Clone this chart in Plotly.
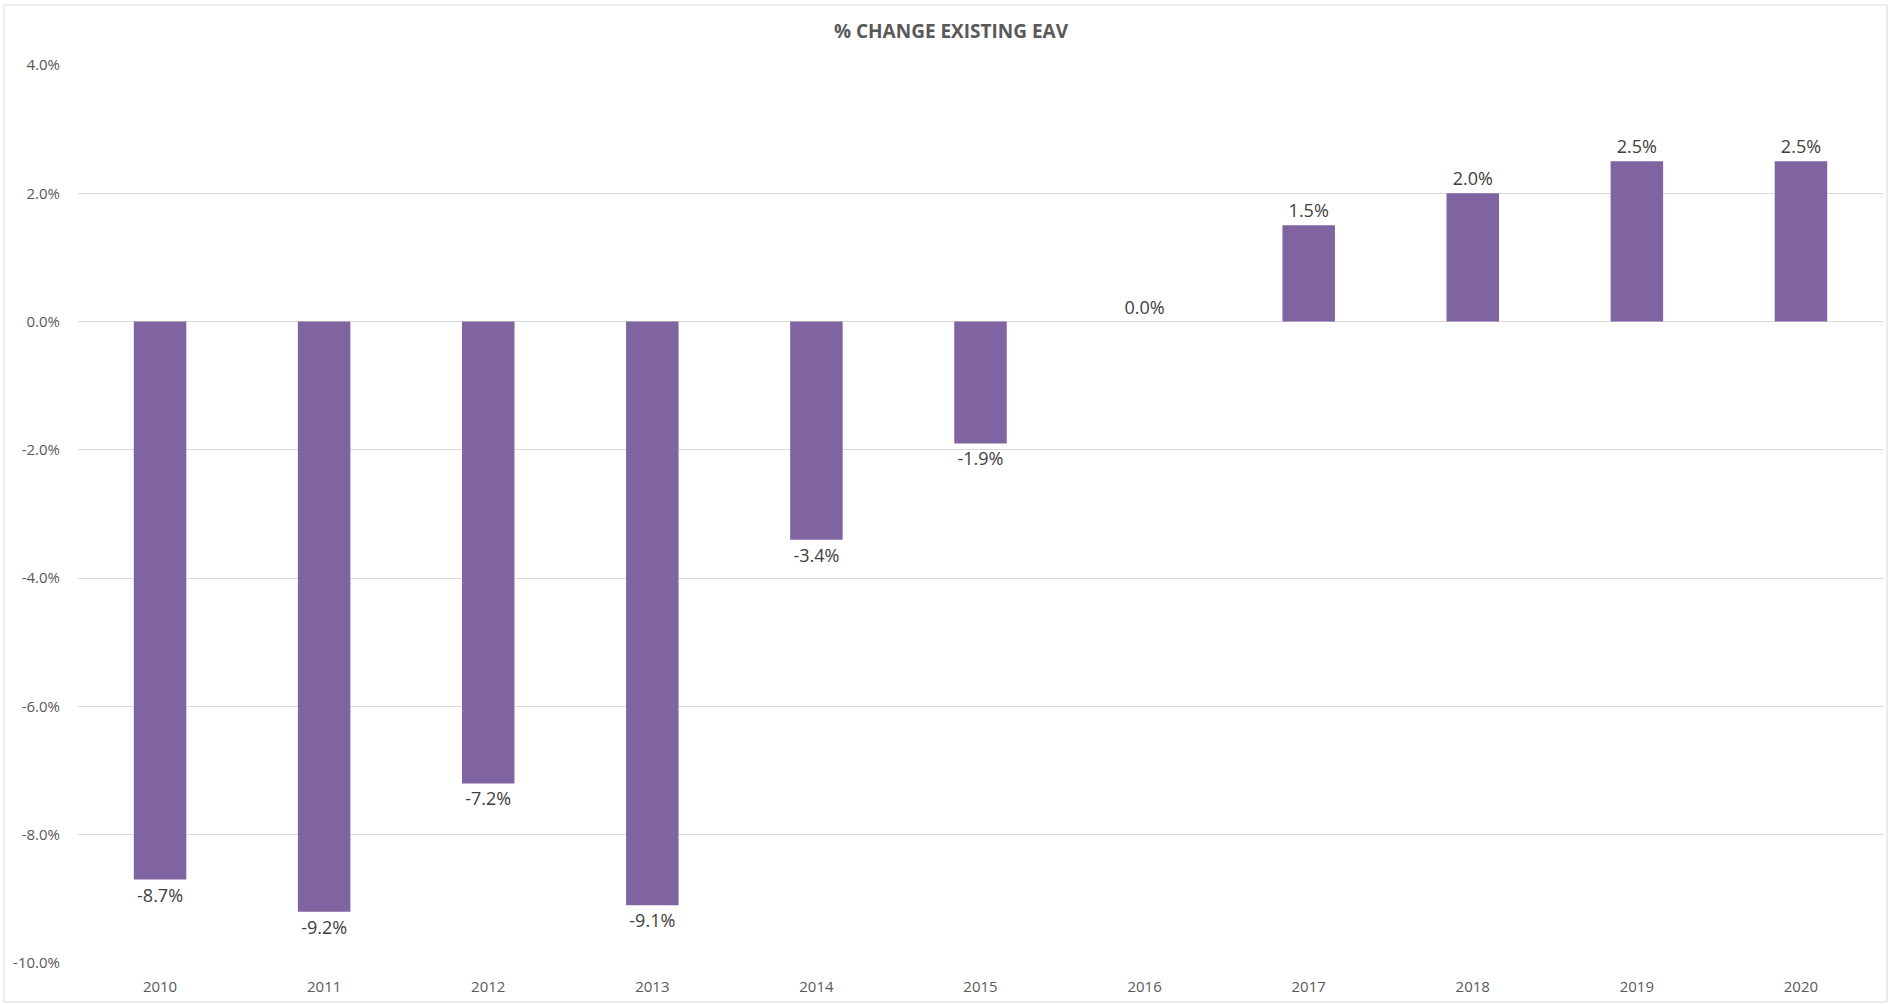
import plotly.graph_objects as go

# Year-over-year % change in existing EAV
years = ["2010", "2011", "2012", "2013", "2014", "2015", "2016", "2017", "2018", "2019", "2020"]
pct_change = [-8.7, -9.2, -7.2, -9.1, -3.4, -1.9, 0.0, 1.5, 2.0, 2.5, 2.5]
y_ticks = [-10, -8, -6, -4, -2, 0, 2, 4]
y_tick_labels = ["-10.0%", "-8.0%", "-6.0%", "-4.0%", "-2.0%", "0.0%", "2.0%", "4.0%"]

W, H = 1891, 1004
L, R, T, B = 78, 8, 65, 41
pw, ph = W - L - R, H - T - B

fig = go.Figure(
    go.Bar(
        x=years,
        y=pct_change,
        marker=dict(color="#8064A2", line=dict(width=0)),
        width=0.32,
        text=[f"{v:.1f}%" for v in pct_change],
        textposition="outside",
        textfont=dict(family="Open Sans", size=18, color="#404040"),
        cliponaxis=False,
    )
)

fig.update_layout(
    width=W,
    height=H,
    autosize=False,
    margin=dict(l=L, r=R, t=T, b=B),
    paper_bgcolor="white",
    plot_bgcolor="white",
    showlegend=False,
    title=dict(
        text="<b>% CHANGE EXISTING EAV</b>",
        x=951 / W,
        xanchor="center",
        xref="container",
        y=1 - 31 / H,
        yanchor="middle",
        yref="container",
        font=dict(family="Open Sans", size=19, color="#595959"),
    ),
    xaxis=dict(
        showgrid=False,
        showline=False,
        ticks="outside",
        ticklen=10,
        tickcolor="rgba(0,0,0,0)",
        tickfont=dict(family="Open Sans", size=15, color="#595959"),
    ),
    yaxis=dict(
        range=[-10, 4],
        tickvals=y_ticks,
        ticktext=y_tick_labels,
        showgrid=True,
        gridcolor="#D9D9D9",
        gridwidth=1,
        zeroline=True,
        zerolinecolor="#D9D9D9",
        zerolinewidth=1,
        showline=False,
        ticks="outside",
        ticklen=14,
        tickcolor="rgba(0,0,0,0)",
        tickfont=dict(family="Open Sans", size=15, color="#595959"),
    ),
    shapes=[
        dict(
            type="rect",
            xref="paper",
            yref="paper",
            x0=(4 - L) / pw,
            x1=(1887 - L) / pw,
            y0=(T + ph - 1002) / ph,
            y1=(T + ph - 5) / ph,
            line=dict(color="#D9D9D9", width=1),
            fillcolor="rgba(0,0,0,0)",
            layer="below",
        )
    ],
)

fig.write_html("out.html")
